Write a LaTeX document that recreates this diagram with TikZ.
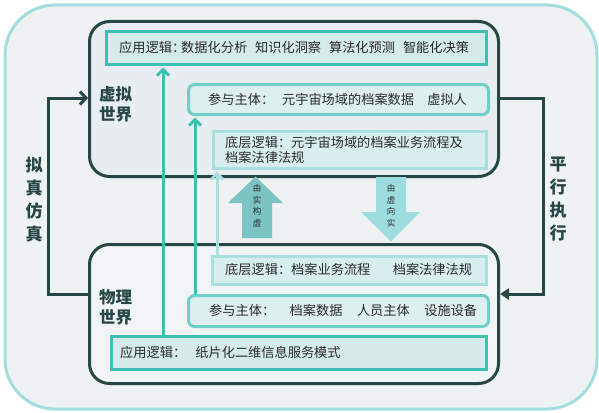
\documentclass[tikz,border=0pt]{standalone}
\usepackage{fontspec}
\newfontfamily\cjk{Noto Sans CJK SC}
\usetikzlibrary{arrows.meta}
\definecolor{darkc}{HTML}{274646}
\definecolor{tealA}{HTML}{3FBFB2}
\definecolor{tealB}{HTML}{70D0C8}
\definecolor{tealC}{HTML}{A9DFDC}
\definecolor{fillA}{HTML}{D4EBE9}
\definecolor{fillB}{HTML}{DDEFEE}
\definecolor{fillC}{HTML}{D8EEEE}
\definecolor{vwfill}{HTML}{E7EDF1}
\definecolor{pwfill}{HTML}{F1F4F4}
\definecolor{bgc}{HTML}{EFF2F2}
\definecolor{outerc}{HTML}{A3DEDE}
\definecolor{upc}{HTML}{7CC3C3}
\definecolor{downc}{HTML}{9DDDE0}
\definecolor{textc}{HTML}{2A2A2A}
\begin{document}
\begin{tikzpicture}[x=1pt,y=-1pt,
  box/.style={anchor=north west, inner sep=0pt, line width=3pt},
  world/.style={box, draw=darkc, rounded corners=20pt},
  appbox/.style={box, draw=tealA, fill=fillA},
  partbox/.style={box, draw=tealB, fill=fillB, rounded corners=6pt},
  basebox/.style={box, draw=tealC, fill=fillC},
  txt/.style={font=\cjk\fontsize{13.2}{15}\selectfont, inner sep=0pt, anchor=west, text=textc, align=left},
  biglbl/.style={font=\cjk\bfseries\fontsize{16.5}{20}\selectfont, inner sep=0pt, text=darkc, align=left, anchor=north west},
  sidelbl/.style={font=\cjk\bfseries\fontsize{17}{23}\selectfont, inner sep=0pt, text=darkc, align=center, anchor=center},
  smalllbl/.style={font=\cjk\fontsize{8.5}{11.5}\selectfont, inner sep=0pt, text=textc, align=center, anchor=center},
  conn/.style={draw=darkc, line width=3pt},
  tarrow/.style={line width=3pt, -{Straight Barb[length=6pt,width=12pt,line width=3pt]}}
]
\useasboundingbox (0,0) rectangle (599,412);
\fill[white] (0,0) rectangle (599,412);
\node[box, draw=outerc, fill=bgc, rounded corners=50pt, minimum width=592pt, minimum height=404pt] (outer) at (3.5,3.5) {};

% worlds
\node[world, fill=vwfill, minimum width=409pt, minimum height=155pt] (vw) at (88,20) {};
\node[world, fill=pwfill, minimum width=409pt, minimum height=139pt] (pw) at (88,243) {};

% inner boxes
\node[appbox, minimum width=380pt, minimum height=33pt] (ua) at (105,30) {};
\node[partbox, minimum width=300pt, minimum height=30pt] (up) at (187,83) {};
\node[basebox, minimum width=273pt, minimum height=37pt] (ul) at (212,130) {};
\node[basebox, minimum width=274pt, minimum height=28pt] (ll) at (211,255) {};
\node[partbox, minimum width=300pt, minimum height=31pt] (lp) at (187,294) {};
\node[appbox, minimum width=375pt, minimum height=33pt] (la) at (110,335) {};

% texts
\node[txt] (uat) at (119,47) {应用逻辑：\hspace{-0.3em}数据化分析\hspace{0.6em}知识化洞察\hspace{0.6em}算法化预测\hspace{0.6em}智能化决策};
\node[txt] (upt) at (208,99) {参与主体：\hspace{0.6em}元宇宙场域的档案数据\hspace{1em}虚拟人};
\node[txt] (ult) at (225,149.5) {底层逻辑：元宇宙场域的档案业务流程及\\档案法律法规};
\node[txt] (llt) at (225,270) {底层逻辑：档案业务流程\hspace{1.7em}档案法律法规};
\node[txt] (lpt) at (209,310) {参与主体：\hspace{1.1em}档案数据\hspace{1.1em}人员主体\hspace{1.1em}设施设备};
\node[txt] (lat) at (120,352) {应用逻辑：\hspace{0.7em}纸片化二维信息服务模式};

% world labels
\node[biglbl] (vwl) at (99,86) {虚拟\\世界};
\node[biglbl] (pwl) at (99,289) {物理\\世界};
\node[sidelbl] (lsl) at (34,200) {拟\\真\\仿\\真};
\node[sidelbl] (rsl) at (558,199) {平\\行\\执\\行};

% side connectors
\coordinate (L1) at (48,294);
\coordinate (L2) at (48,98);
\coordinate (R1) at (543,98);
\coordinate (R2) at (543,294);
\draw[conn, -{Straight Barb[length=6pt,width=13pt,line width=3pt]}] (pw.west |- L1) -- (L1) -- (L2) -- (vw.west |- L2);
\draw[conn, -{Triangle[length=9pt,width=11pt]}] (vw.east |- R1) -- (R1) -- (R2) -- (pw.east |- R2);

% vertical teal arrows
\coordinate (X1) at (163,0);
\coordinate (X2) at (195,0);
\coordinate (X3) at (217,0);
\draw[tarrow, draw=tealA] (la.north -| X1) -- ([yshift=-1.5pt]ua.south -| X1);
\draw[tarrow, draw=tealA] (lp.north -| X2) -- ([yshift=-1.5pt]up.south -| X2);
\draw[tarrow, draw=tealC] (ll.north -| X3) -- ([yshift=-1.5pt]ul.south -| X3);

% block arrows
\fill[upc] (255.5,176.5) -- (283,203) -- (272,203) -- (272,238) -- (242,238) -- (242,203) -- (228,203) -- cycle;
\node[smalllbl] (upl) at (257,206) {由\\实\\构\\虚};
\fill[downc] (376,177) -- (406,177) -- (406,212) -- (420,212) -- (391,241.5) -- (361,212) -- (376,212) -- cycle;
\node[smalllbl] (dnl) at (391,206) {由\\虚\\向\\实};
\end{tikzpicture}
\end{document}
